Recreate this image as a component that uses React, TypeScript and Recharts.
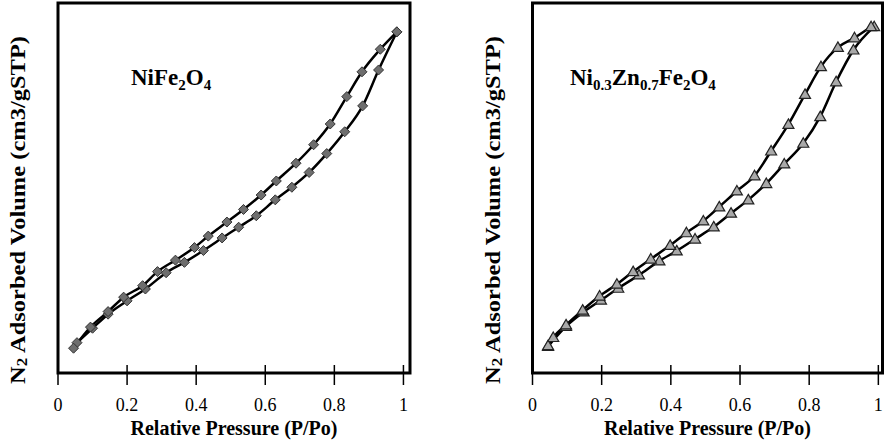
import { LineChart, Line, XAxis, YAxis, ReferenceArea } from 'recharts'

// NiFe2O4 – adsorption / desorption branches (relative pressure, adsorbed volume in arbitrary units)
const nfAdsP = [0.055, 0.1, 0.145, 0.2, 0.253, 0.313, 0.366, 0.421, 0.475, 0.523, 0.574, 0.629, 0.677, 0.727, 0.778, 0.83, 0.882, 0.928, 0.981]
const nfAdsV = [8.2, 12.1, 15.9, 19.5, 22.7, 27.1, 29.9, 33.1, 36.5, 39.4, 42.5, 46.8, 50.2, 54.2, 59.3, 65.2, 72.2, 81.9, 92.2]
const nfDesP = [0.045, 0.094, 0.145, 0.19, 0.245, 0.288, 0.34, 0.395, 0.435, 0.489, 0.537, 0.588, 0.632, 0.689, 0.74, 0.788, 0.836, 0.88, 0.933, 0.981]
const nfDesV = [6.7, 12.4, 16.6, 20.5, 23.6, 27.4, 30.5, 33.9, 37.0, 40.8, 44.2, 48.1, 51.9, 56.7, 61.7, 67.3, 74.7, 81.4, 87.5, 92.2]

// Ni0.3Zn0.7Fe2O4
const nzAdsP = [0.045, 0.097, 0.148, 0.198, 0.248, 0.308, 0.367, 0.417, 0.47, 0.524, 0.574, 0.624, 0.676, 0.728, 0.783, 0.832, 0.878, 0.928, 0.988]
const nzAdsV = [7.2, 12.6, 16.5, 19.7, 22.9, 26.5, 30.3, 33.0, 36.2, 39.5, 43.2, 46.8, 51.2, 56.5, 62.1, 69.3, 78.7, 87.3, 93.6]
const nzDesP = [0.045, 0.06, 0.097, 0.145, 0.194, 0.244, 0.291, 0.342, 0.398, 0.445, 0.494, 0.54, 0.591, 0.642, 0.69, 0.74, 0.788, 0.834, 0.883, 0.931, 0.979]
const nzDesV = [7.4, 9.6, 13.0, 17.0, 20.8, 24.0, 27.4, 30.8, 34.5, 37.9, 41.1, 44.9, 49.2, 53.3, 60.0, 67.2, 75.3, 82.8, 88.0, 90.6, 93.6]

const xTicks = [0, 0.2, 0.4, 0.6, 0.8, 1]
const xLabel = 'Relative Pressure (P/Po)'
const yLabel = ' Adsorbed Volume (cm3/gSTP)'

const serif = '"Liberation Serif", "Times New Roman", serif'

const toRows = (p: number[], v: number[]) => p.map((x, i) => ({ p: x, v: v[i] }))

const diamond = (props: any) => {
  const { cx, cy, index } = props
  if (cx == null || cy == null) return <g key={index} />
  return (
    <path
      key={index}
      d={`M${cx},${cy - 5}L${cx + 5},${cy}L${cx},${cy + 5}L${cx - 5},${cy}Z`}
      fill="#6e6e6e"
      stroke="#333"
      strokeWidth={1}
    />
  )
}

const triangle = (props: any) => {
  const { cx, cy, index } = props
  if (cx == null || cy == null) return <g key={index} />
  return (
    <path
      key={index}
      d={`M${cx},${cy - 5.5}L${cx + 5.5},${cy + 4}L${cx - 5.5},${cy + 4}Z`}
      fill="#a9a9a9"
      stroke="#222"
      strokeWidth={1.2}
    />
  )
}

const XTick = (props: any) => {
  const { x, y, payload } = props
  return (
    <g>
      <line x1={x} x2={x} y1={y - 8} y2={y + 12} stroke="#000" strokeWidth={1.5} />
      <text x={x} y={y + 38} textAnchor="middle" fontSize={18} fontFamily={serif} fill="#000">
        {String(payload.value)}
      </text>
    </g>
  )
}

interface PanelProps {
  left: number
  marginLeft: number
  marginRight: number
  xMax: number
  ads: { p: number; v: number }[]
  des: { p: number; v: number }[]
  dot: (p: any) => any
  title: any
  titleX: number
  yLabelX: number
}

const Panel = ({ left, marginLeft, marginRight, xMax, ads, des, dot, title, titleX, yLabelX }: PanelProps) => {
  const plotW = 443 - marginLeft - marginRight
  const midX = marginLeft + plotW / 2
  return (
    <div style={{ position: 'absolute', left, top: 0 }}>
      <LineChart width={443} height={441} margin={{ top: 3, right: marginRight, bottom: 0, left: marginLeft }}>
        <XAxis
          type="number"
          dataKey="p"
          domain={[0, xMax]}
          ticks={xTicks}
          axisLine={false}
          tickLine={false}
          tickSize={0}
          tickMargin={0}
          height={68}
          tick={<XTick />}
        />
        <YAxis type="number" dataKey="v" domain={[0, 100]} hide />
        <ReferenceArea x1={0} x2={xMax} y1={0} y2={100} fill="none" stroke="#000" strokeWidth={3} />
        <Line data={ads} dataKey="v" type="monotone" stroke="#000" strokeWidth={2.5} dot={dot} isAnimationActive={false} />
        <Line data={des} dataKey="v" type="monotone" stroke="#000" strokeWidth={2.5} dot={dot} isAnimationActive={false} />
        <text x={titleX} y={85} fontSize={23} fontWeight="bold" fontFamily={serif} fill="#000">
          {title}
        </text>
        <text x={midX} y={435} textAnchor="middle" fontSize={20} fontWeight="bold" fontFamily={serif} fill="#000">
          {xLabel}
        </text>
        <text
          x={yLabelX}
          y={210}
          textAnchor="middle"
          fontSize={20}
          fontWeight="bold"
          fontFamily={serif}
          fill="#000"
          textLength={348}
          lengthAdjust="spacingAndGlyphs"
          transform={`rotate(-90, ${yLabelX}, 210)`}
        >
          <tspan>N</tspan>
          <tspan fontSize={14} dy={2}>2</tspan>
          <tspan dy={-2}>{yLabel}</tspan>
        </text>
      </LineChart>
    </div>
  )
}

const sub = (s: string) => (
  <tspan fontSize={15} dy={5}>
    {s}
  </tspan>
)
const up = (s: string) => <tspan dy={-5}>{s}</tspan>

export default function App() {
  return (
    <div style={{ position: 'absolute', left: 0, top: 0, width: 886, height: 441, background: '#fff' }}>
      <Panel
        left={0}
        marginLeft={58}
        marginRight={33}
        xMax={1.019}
        ads={toRows(nfAdsP, nfAdsV)}
        des={toRows(nfDesP, nfDesV)}
        dot={diamond}
        title={[<tspan key="a">NiFe</tspan>, <tspan key="b">{sub('2')}</tspan>, <tspan key="c">{up('O')}</tspan>, <tspan key="d">{sub('4')}</tspan>]}
        titleX={131}
        yLabelX={25}
      />
      <Panel
        left={443}
        marginLeft={89.5}
        marginRight={3.5}
        xMax={1.012}
        ads={toRows(nzAdsP, nzAdsV)}
        des={toRows(nzDesP, nzDesV)}
        dot={triangle}
        title={[
          <tspan key="a">Ni</tspan>,
          <tspan key="b">{sub('0.3')}</tspan>,
          <tspan key="c">{up('Zn')}</tspan>,
          <tspan key="d">{sub('0.7')}</tspan>,
          <tspan key="e">{up('Fe')}</tspan>,
          <tspan key="f">{sub('2')}</tspan>,
          <tspan key="g">{up('O')}</tspan>,
          <tspan key="h">{sub('4')}</tspan>,
        ]}
        titleX={127}
        yLabelX={57}
      />
    </div>
  )
}
